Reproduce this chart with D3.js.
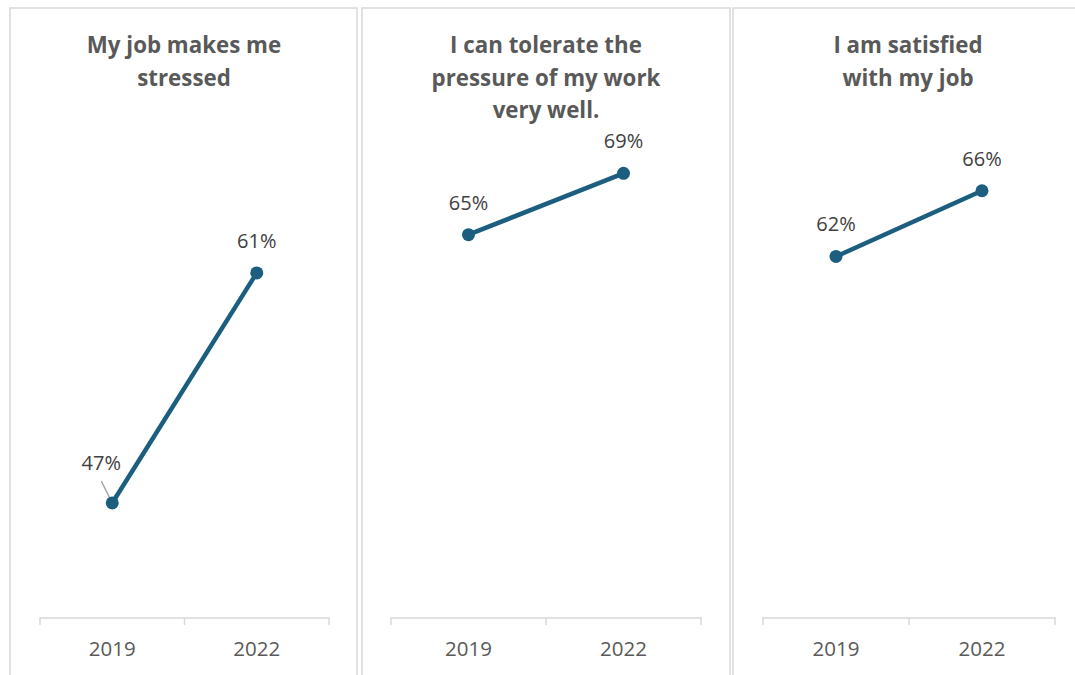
<!DOCTYPE html>
<html>
<head>
<meta charset="utf-8">
<script src="https://cdn.jsdelivr.net/npm/d3@7"></script>
<style>
  body { margin: 0; background: #fff; }
  svg { display: block; font-family: "Open Sans", "Lato", sans-serif; }
</style>
</head>
<body>
<script>
// data
var years = ["2019", "2022"];
var titles = [
  ["My job makes me", "stressed"],
  ["I can tolerate the", "pressure of my work", "very well."],
  ["I am satisfied", "with my job"]
];
var values = [
  [47, 61],
  [65, 69],
  [62, 66]
];
var yDomain = [40, 70];

// layout of the three panels (Excel-style charts side by side)
var panels = [
  {x0: 10,  x1: 357,  ax0: 40,  ax1: 329,  top: 125, tx: 184},
  {x0: 362, x1: 730,  ax0: 391, ax1: 701,  top: 158, tx: 546},
  {x0: 733, x1: 1085, ax0: 763, ax1: 1055, top: 125, tx: 908}
];
var axisY = 618;
var lineColor = "#1b5e7f";

var svg = d3.select("body").append("svg")
    .attr("width", 1075)
    .attr("height", 675);

panels.forEach(function (p, i) {
  var g = svg.append("g");

  g.append("rect")
      .attr("x", p.x0).attr("y", 8)
      .attr("width", p.x1 - p.x0).attr("height", 700)
      .attr("fill", "#fff")
      .attr("stroke", "#d9d9d9")
      .attr("stroke-width", 1.5);

  // title
  var t = g.append("text")
      .attr("text-anchor", "middle")
      .attr("fill", "#595959")
      .attr("font-size", 22.3)
      .attr("font-weight", "bold");
  t.selectAll("tspan")
    .data(titles[i])
    .enter().append("tspan")
      .attr("x", p.tx)
      .attr("y", function (d, k) { return 53 + k * 32.5; })
      .text(function (d) { return d; });

  var x = d3.scaleBand().domain(years).range([p.ax0, p.ax1]);
  var y = d3.scaleLinear().domain(yDomain).range([axisY, p.top]);

  // category axis with ticks between the bands
  var ax = g.append("g").attr("transform", "translate(0," + axisY + ")");
  ax.append("path")
      .attr("d", "M" + p.ax0 + ",7V0H" + p.ax1 + "V7")
      .attr("fill", "none").attr("stroke", "#d9d9d9").attr("stroke-width", 1.5);
  ax.append("line")
      .attr("x1", x("2022")).attr("x2", x("2022"))
      .attr("y1", 0).attr("y2", 7)
      .attr("stroke", "#d9d9d9").attr("stroke-width", 1.5);
  ax.selectAll("text.tick")
    .data(years)
    .enter().append("text")
      .attr("class", "tick")
      .attr("x", function (d) { return x(d) + x.bandwidth() / 2; })
      .attr("y", 38)
      .attr("text-anchor", "middle")
      .attr("fill", "#595959")
      .attr("font-size", 20.5)
      .text(function (d) { return d; });

  var pts = values[i].map(function (v, k) { return {yr: years[k], v: v}; });
  var line = d3.line()
      .x(function (d) { return x(d.yr) + x.bandwidth() / 2; })
      .y(function (d) { return y(d.v); });

  g.append("path")
      .attr("d", line(pts))
      .attr("fill", "none")
      .attr("stroke", lineColor)
      .attr("stroke-width", 4.5)
      .attr("stroke-linecap", "round");

  // leader line on first panel's 2019 label
  if (i === 0) {
    var px = x("2019") + x.bandwidth() / 2, py = y(values[0][0]);
    g.append("line")
        .attr("x1", px - 11).attr("y1", py - 22)
        .attr("x2", px - 1).attr("y2", py - 2)
        .attr("stroke", "#a6a6a6").attr("stroke-width", 1.5);
  }

  g.selectAll("circle")
    .data(pts)
    .enter().append("circle")
      .attr("cx", function (d) { return x(d.yr) + x.bandwidth() / 2; })
      .attr("cy", function (d) { return y(d.v); })
      .attr("r", 6.5)
      .attr("fill", lineColor);

  g.selectAll("text.lbl")
    .data(pts)
    .enter().append("text")
      .attr("class", "lbl")
      .attr("x", function (d, k) { return x(d.yr) + x.bandwidth() / 2 - (i === 0 && k === 0 ? 11 : 0); })
      .attr("y", function (d, k) { return y(d.v) - (i === 0 && k === 0 ? 33 : 25); })
      .attr("text-anchor", "middle")
      .attr("fill", "#404040")
      .attr("font-size", 20)
      .text(function (d) { return d.v + "%"; });
});
</script>
</body>
</html>
